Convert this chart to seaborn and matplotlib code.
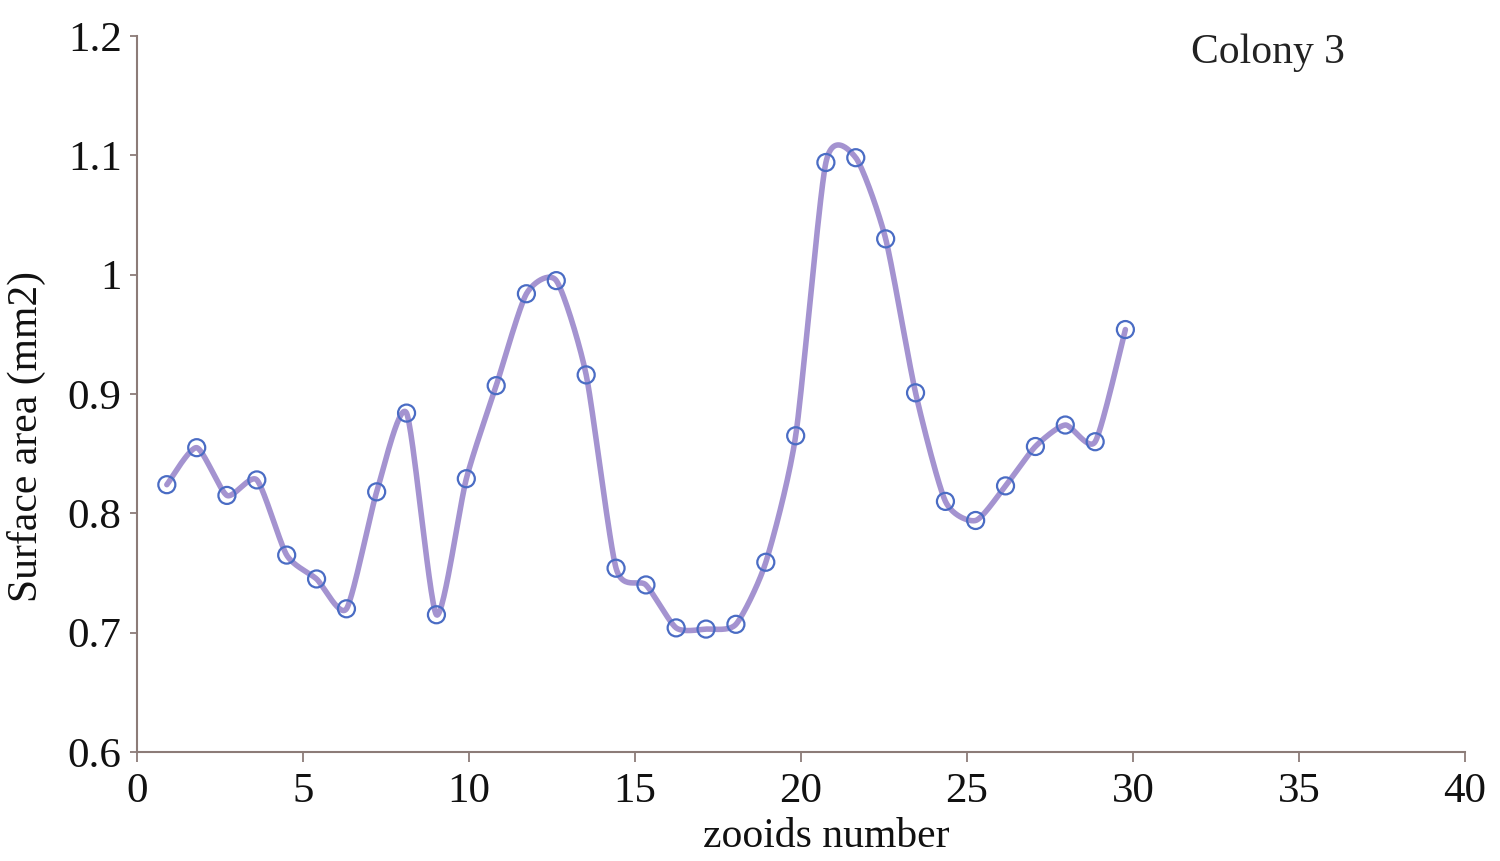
import numpy as np
import pandas as pd
import matplotlib
matplotlib.use("Agg")
import matplotlib.pyplot as plt
import seaborn as sns

# ---- data ----
zooid_x = [0.90, 1.80, 2.71, 3.61, 4.51, 5.41, 6.31, 7.22, 8.12, 9.02,
           9.92, 10.82, 11.73, 12.63, 13.53, 14.43, 15.33, 16.24, 17.14, 18.04,
           18.94, 19.84, 20.75, 21.65, 22.55, 23.45, 24.35, 25.26, 26.16, 27.06,
           27.96, 28.86, 29.77]
surface_area = [0.824, 0.855, 0.815, 0.828, 0.765, 0.745, 0.720, 0.818, 0.884, 0.715,
                0.829, 0.907, 0.984, 0.995, 0.916, 0.754, 0.740, 0.704, 0.703, 0.707,
                0.759, 0.865, 1.094, 1.098, 1.030, 0.901, 0.810, 0.794, 0.823, 0.856,
                0.874, 0.860, 0.954]
x_ticks = [0, 5, 10, 15, 20, 25, 30, 35, 40]
y_ticks = [0.6, 0.7, 0.8, 0.9, 1.0, 1.1, 1.2]
y_tick_labels = ["0.6", "0.7", "0.8", "0.9", "1", "1.1", "1.2"]
panel_label = "Colony 3"
x_label = "zooids number"
y_label = "Surface area (mm2)"


def smooth_curve(xs, ys, n=30, k=9.0):
    """Bezier smoothing through the points (like a spreadsheet 'smoothed line')."""
    P = np.column_stack([xs, ys]).astype(float)
    P = np.vstack([P[0], P, P[-1]])
    out = []
    t = np.linspace(0, 1, n)[:, None]
    for i in range(1, len(P) - 2):
        p0, p1, p2, p3 = P[i - 1], P[i], P[i + 1], P[i + 2]
        c1 = p1 + (p2 - p0) / k
        c2 = p2 - (p3 - p1) / k
        seg = ((1 - t) ** 3) * p1 + 3 * ((1 - t) ** 2) * t * c1 + 3 * (1 - t) * t ** 2 * c2 + t ** 3 * p2
        out.append(seg if i == 1 else seg[1:])
    out = np.vstack(out)
    return out[:, 0], out[:, 1]


sx, sy = smooth_curve(zooid_x, surface_area)
curve = pd.DataFrame({"x": sx, "y": sy})
points = pd.DataFrame({"x": zooid_x, "y": surface_area})

sns.set_theme(style="white")
plt.rcParams["font.family"] = ["Liberation Serif", "DejaVu Serif"]

fig = plt.figure(figsize=(15, 8.61), dpi=100)
ax = fig.add_axes([0.0913, 0.1266, 0.8854, 0.8316])

line_color = "#a493d0"
marker_edge = "#4a6cc4"
spine_color = "#8c7c78"

sns.lineplot(data=curve, x="x", y="y", sort=False, estimator=None,
             color=line_color, linewidth=4.0, ax=ax, zorder=2)
sns.scatterplot(data=points, x="x", y="y", marker="o", s=150,
                facecolor="none", edgecolor=marker_edge, linewidth=1.6,
                ax=ax, zorder=3)

ax.set_xlim(0, 40)
ax.set_ylim(0.6, 1.2)
ax.set_xticks(x_ticks)
ax.set_xticklabels([str(v) for v in x_ticks])
ax.set_yticks(y_ticks)
ax.set_yticklabels(y_tick_labels)

for side in ["top", "right"]:
    ax.spines[side].set_visible(False)
for side in ["left", "bottom"]:
    ax.spines[side].set_color(spine_color)
    ax.spines[side].set_linewidth(1.5)

ax.tick_params(axis="both", which="major", direction="out", colors=spine_color,
               labelcolor="#111111", labelsize=31, width=1.3,
               bottom=True, left=True, top=False, right=False)
ax.tick_params(axis="y", length=5, pad=6)
ax.tick_params(axis="x", length=7, pad=8)

ax.set_xlabel(x_label, fontsize=30, color="#111111")
ax.xaxis.set_label_coords(0.519, -0.092)
ax.set_ylabel(y_label, fontsize=30, color="#111111", va="center")
ax.yaxis.set_label_coords(-0.083, 0.44)

ax.text(0.794, 0.962, panel_label, transform=ax.transAxes, fontsize=30,
        color="#222222", ha="left", va="baseline")

ax.grid(False)
fig.savefig("out.png", dpi=100, facecolor="white")
